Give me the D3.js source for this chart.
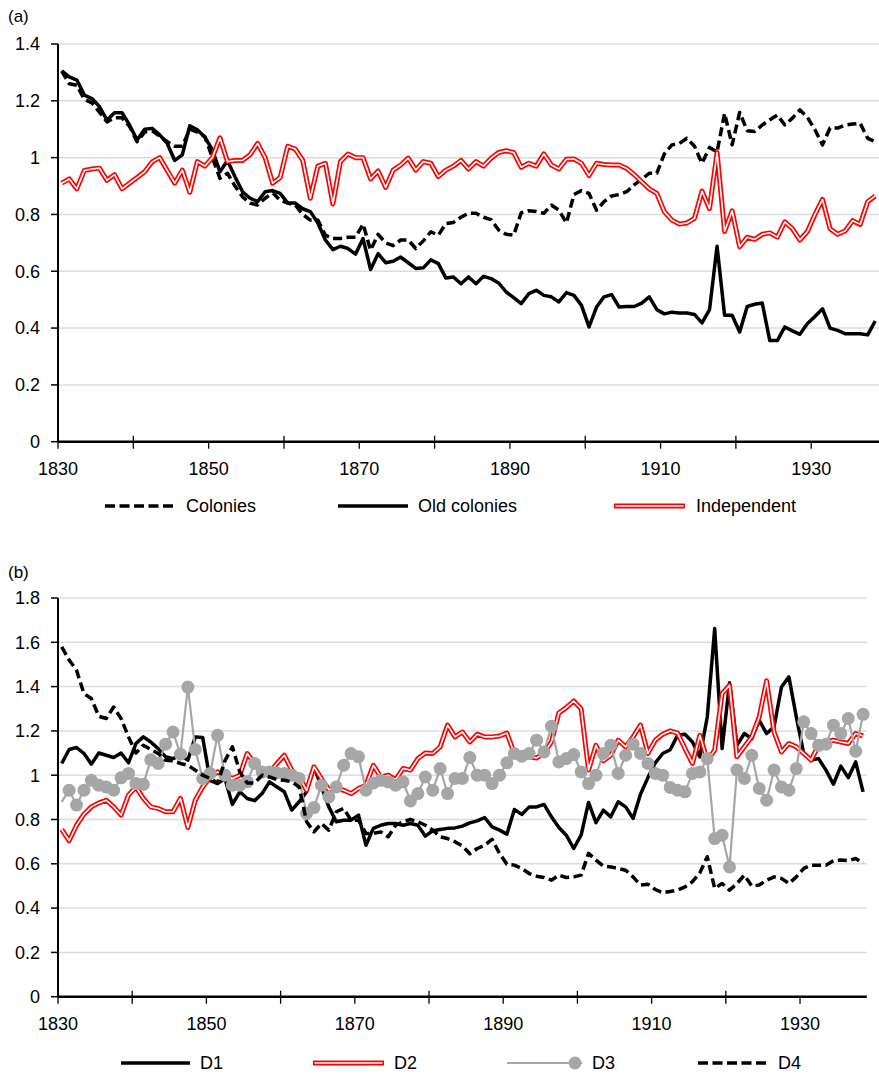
<!DOCTYPE html>
<html>
<head>
<meta charset="utf-8">
<script src="https://cdn.jsdelivr.net/npm/d3@7"></script>
<style>
body { margin: 0; background: #fff; }
text { font-family: "Liberation Sans", Arial, Helvetica, sans-serif; fill: #000; }
</style>
</head>
<body>
<div id="chart-area"></div>
<script>
// categories: one point per year
const years = d3.range(1830, 1939)
const xTickLabels = [1830, 1850, 1870, 1890, 1910, 1930]
const yTicksA = [0, 0.2, 0.4, 0.6, 0.8, 1, 1.2, 1.4]
const yTicksB = [0, 0.2, 0.4, 0.6, 0.8, 1, 1.2, 1.4, 1.6, 1.8]

// panel (a)
const colonies = [1.305, 1.26, 1.255, 1.205, 1.193, 1.16, 1.126, 1.14, 1.14, 1.11,
	1.056, 1.09, 1.094, 1.076, 1.056, 1.04, 1.04, 1.1, 1.09, 1.074,
	1.0, 0.927, 0.945, 0.9, 0.862, 0.84, 0.833, 0.857, 0.876, 0.85,
	0.84, 0.833, 0.8, 0.78, 0.78, 0.727, 0.715, 0.715, 0.72, 0.72,
	0.766, 0.674, 0.73, 0.70, 0.69, 0.71, 0.71, 0.68, 0.707, 0.739,
	0.727, 0.768, 0.772, 0.79, 0.804, 0.804, 0.79, 0.782, 0.745, 0.73,
	0.727, 0.806, 0.813, 0.81, 0.804, 0.833, 0.815, 0.77, 0.87, 0.884,
	0.874, 0.815, 0.845, 0.865, 0.87, 0.88, 0.904, 0.924, 0.945, 0.945,
	1.013, 1.045, 1.05, 1.068, 1.04, 0.98, 1.036, 1.02, 1.156, 1.045,
	1.159, 1.095, 1.092, 1.115, 1.133, 1.15, 1.115, 1.139, 1.168, 1.142,
	1.098, 1.045, 1.104, 1.104, 1.115, 1.118, 1.121, 1.068, 1.056]

const oldColonies = [1.305, 1.284, 1.273, 1.22, 1.208, 1.18, 1.132, 1.158, 1.158, 1.115,
	1.062, 1.1, 1.103, 1.08, 1.05, 0.99, 1.01, 1.112, 1.098, 1.072,
	1.027, 0.95, 0.99, 0.933, 0.88, 0.857, 0.845, 0.88, 0.884, 0.874,
	0.84, 0.84, 0.82, 0.81, 0.77, 0.71, 0.676, 0.688, 0.68, 0.66,
	0.715, 0.606, 0.662, 0.63, 0.635, 0.65, 0.63, 0.61, 0.612, 0.64,
	0.627, 0.576, 0.58, 0.556, 0.58, 0.556, 0.582, 0.574, 0.559, 0.527,
	0.507, 0.486, 0.521, 0.533, 0.515, 0.51, 0.492, 0.525, 0.515, 0.48,
	0.404, 0.474, 0.51, 0.518, 0.474, 0.476, 0.476, 0.488, 0.51, 0.465,
	0.45, 0.456, 0.453, 0.453, 0.448, 0.418, 0.465, 0.688, 0.445, 0.445,
	0.386, 0.476, 0.484, 0.488, 0.356, 0.356, 0.404, 0.39, 0.378, 0.416,
	0.441, 0.468, 0.4, 0.392, 0.38, 0.38, 0.38, 0.376, 0.425]

const independent = [0.91, 0.925, 0.89, 0.955, 0.96, 0.963, 0.92, 0.94, 0.89, 0.91,
	0.93, 0.95, 0.985, 1.0, 0.955, 0.91, 0.956, 0.878, 0.986, 0.97,
	1.0, 1.07, 0.986, 0.99, 0.99, 1.01, 1.05, 1.0, 0.91, 0.93,
	1.04, 1.03, 0.99, 0.857, 0.97, 0.98, 0.837, 0.986, 1.013, 1.0,
	1.0, 0.925, 0.953, 0.895, 0.956, 0.974, 0.998, 0.956, 0.986, 0.98,
	0.933, 0.956, 0.97, 0.99, 0.96, 0.986, 0.97, 0.998, 1.018, 1.024,
	1.018, 0.966, 0.98, 0.97, 1.013, 0.974, 0.96, 0.994, 0.995, 0.98,
	0.937, 0.98, 0.976, 0.974, 0.974, 0.962, 0.94, 0.915, 0.89, 0.874,
	0.81, 0.78, 0.766, 0.77, 0.786, 0.882, 0.82, 1.018, 0.74, 0.813,
	0.686, 0.72, 0.712, 0.73, 0.735, 0.72, 0.774, 0.75, 0.71, 0.74,
	0.8, 0.853, 0.75, 0.73, 0.742, 0.778, 0.765, 0.845, 0.865]

// panel (b)
const d1 = [1.053, 1.116, 1.125, 1.098, 1.05, 1.1, 1.09, 1.08, 1.1, 1.056,
	1.143, 1.173, 1.15, 1.12, 1.083, 1.075, 1.09, 1.068, 1.173, 1.17,
	0.977, 0.962, 0.985, 0.868, 0.925, 0.895, 0.885, 0.917, 0.97, 0.947,
	0.925, 0.842, 0.88, 0.925, 1.038, 0.947, 0.857, 0.79, 0.797, 0.797,
	0.82, 0.684, 0.76, 0.774, 0.782, 0.782, 0.774, 0.782, 0.774, 0.725,
	0.749, 0.755, 0.76, 0.762, 0.77, 0.785, 0.794, 0.809, 0.767, 0.752,
	0.734, 0.845, 0.823, 0.857, 0.857, 0.868, 0.812, 0.764, 0.729, 0.669,
	0.729, 0.877, 0.786, 0.842, 0.812, 0.88, 0.857, 0.805, 0.914, 0.989,
	1.056, 1.098, 1.115, 1.18, 1.185, 1.15, 1.083, 1.263, 1.662, 1.12,
	1.417, 1.135, 1.188, 1.165, 1.248, 1.188, 1.218, 1.398, 1.444, 1.263,
	1.098, 1.068, 1.075, 1.023, 0.959, 1.041, 0.989, 1.06, 0.925]

const d2 = [0.755, 0.704, 0.774, 0.824, 0.857, 0.875, 0.887, 0.857, 0.82, 0.91,
	0.947, 0.895, 0.857, 0.85, 0.835, 0.835, 0.895, 0.764, 0.887, 0.947,
	0.992, 1.015, 1.0, 0.985, 1.0, 1.098, 1.053, 1.02, 1.01, 1.053,
	1.09, 1.023, 0.992, 0.932, 1.038, 0.985, 0.935, 0.94, 0.932, 0.917,
	0.94, 0.955, 1.045, 0.992, 1.0, 0.98, 1.03, 1.023, 1.075, 1.1,
	1.098, 1.128, 1.226, 1.173, 1.195, 1.15, 1.185, 1.173, 1.173, 1.177,
	1.19, 1.098, 1.083, 1.083, 1.078, 1.098, 1.15, 1.281, 1.305, 1.335,
	1.3, 1.023, 1.135, 1.065, 1.09, 1.158, 1.128, 1.173, 1.226, 1.098,
	1.158, 1.185, 1.2, 1.19, 1.12, 1.053, 1.18, 1.068, 1.113, 1.368,
	1.406, 1.083, 1.128, 1.173, 1.263, 1.426, 1.195, 1.105, 1.143, 1.128,
	1.098, 1.068, 1.135, 1.15, 1.158, 1.15, 1.143, 1.188, 1.177]

const d3s = [0.88, 0.932, 0.865, 0.932, 0.977, 0.955, 0.947, 0.932, 0.988, 1.008,
	0.962, 0.959, 1.07, 1.053, 1.14, 1.195, 1.095, 1.398, 1.116, 0.985,
	1.008, 1.18, 1.0, 0.955, 0.955, 0.97, 1.053, 1.015, 1.015, 1.01,
	1.008, 1.0, 0.985, 0.827, 0.854, 0.955, 0.902, 0.947, 1.045, 1.098,
	1.083, 0.932, 0.965, 0.977, 0.97, 0.955, 0.97, 0.884, 0.917, 0.992,
	0.932, 1.03, 0.917, 0.985, 0.985, 1.08, 1.0, 1.0, 0.962, 1.0,
	1.056, 1.098, 1.086, 1.098, 1.158, 1.105, 1.221, 1.06, 1.075, 1.093,
	1.015, 0.962, 1.0, 1.098, 1.135, 1.008, 1.09, 1.14, 1.098, 1.053,
	1.008, 1.0, 0.945, 0.932, 0.925, 1.008, 1.015, 1.075, 0.714, 0.729,
	0.586, 1.023, 0.985, 1.09, 0.94, 0.887, 1.023, 0.947, 0.932, 1.03,
	1.241, 1.188, 1.135, 1.14, 1.226, 1.188, 1.256, 1.108, 1.275]

const d4 = [1.579, 1.52, 1.474, 1.368, 1.346, 1.266, 1.256, 1.308, 1.256, 1.173,
	1.1, 1.135, 1.116, 1.098, 1.068, 1.065, 1.053, 1.045, 1.023, 1.0,
	0.985, 0.965, 1.065, 1.128, 1.015, 0.965, 0.965, 1.0, 0.992, 0.98,
	0.977, 0.97, 0.947, 0.79, 0.744, 0.782, 0.752, 0.835, 0.85, 0.797,
	0.797, 0.737, 0.737, 0.744, 0.722, 0.774, 0.79, 0.8, 0.79, 0.774,
	0.752, 0.722, 0.714, 0.70, 0.68, 0.645, 0.669, 0.684, 0.71, 0.647,
	0.598, 0.594, 0.579, 0.556, 0.544, 0.538, 0.526, 0.549, 0.538, 0.541,
	0.549, 0.647, 0.617, 0.589, 0.586, 0.579, 0.571, 0.541, 0.504, 0.508,
	0.484, 0.469, 0.475, 0.481, 0.496, 0.519, 0.559, 0.632, 0.489, 0.511,
	0.481, 0.511, 0.549, 0.499, 0.504, 0.526, 0.541, 0.534, 0.511, 0.541,
	0.579, 0.594, 0.594, 0.594, 0.614, 0.617, 0.614, 0.624, 0.602]

const RED = "#ff0000"
const GREY = "#a6a6a6"

const svg = d3.select("#chart-area").append("svg")
	.attr("width", 879)
	.attr("height", 1075)

const fmt = d => String(+d.toFixed(1))

function drawSeries(g, values, x, y, style) {
	const line = d3.line()
		.x((d, i) => x(years[i]))
		.y(d => y(d))
	const path = line(values)
	if (style == "double") {
		g.append("path").attr("d", path).attr("fill", "none")
			.attr("stroke", RED).attr("stroke-width", 5).attr("stroke-linejoin", "round")
		g.append("path").attr("d", path).attr("fill", "none")
			.attr("stroke", "#fff").attr("stroke-width", 1.6).attr("stroke-linejoin", "round")
	} else if (style == "marker") {
		g.append("path").attr("d", path).attr("fill", "none")
			.attr("stroke", GREY).attr("stroke-width", 2.2)
		// the first year carries no marker in the original
		g.selectAll(null).data(values).enter()
			.filter((d, i) => i > 0)
			.append("circle")
			.attr("cx", (d, i) => x(years[i + 1]))
			.attr("cy", d => y(d))
			.attr("r", 6.5)
			.attr("fill", GREY)
	} else {
		g.append("path").attr("d", path).attr("fill", "none")
			.attr("stroke", "#000").attr("stroke-width", 3.5)
			.attr("stroke-linejoin", "round")
			.attr("stroke-dasharray", style == "dash" ? "9,4.5" : null)
	}
}

function legendItem(g, item, ly) {
	if (item.style == "double") {
		g.append("line").attr("x1", item.x1).attr("x2", item.x2).attr("y1", ly).attr("y2", ly)
			.attr("stroke", RED).attr("stroke-width", 5)
		g.append("line").attr("x1", item.x1 + 1.5).attr("x2", item.x2 - 1.5).attr("y1", ly).attr("y2", ly)
			.attr("stroke", "#fff").attr("stroke-width", 1.6)
	} else if (item.style == "marker") {
		g.append("line").attr("x1", item.x1).attr("x2", item.x2).attr("y1", ly).attr("y2", ly)
			.attr("stroke", GREY).attr("stroke-width", 2.2)
		g.append("circle").attr("cx", item.x2 - 7).attr("cy", ly).attr("r", 6.5).attr("fill", GREY)
	} else {
		g.append("line").attr("x1", item.x1).attr("x2", item.x2).attr("y1", ly).attr("y2", ly)
			.attr("stroke", "#000").attr("stroke-width", 3.5)
			.attr("stroke-dasharray", item.style == "dash" ? "10,4.5" : null)
	}
	g.append("text")
		.attr("x", item.tx)
		.attr("y", ly)
		.attr("dy", "0.35em")
		.attr("font-size", "18px")
		.text(item.name)
}

function drawPanel(p) {
	const g = svg.append("g")

	// scales: categories sit between tick marks
	const x = d3.scaleLinear().domain([1829.5, 1938.5]).range([p.left, p.right])
	const y = d3.scaleLinear().domain([0, p.yMax]).range([p.bottom, p.top])

	// panel tag
	g.append("text").attr("x", 8).attr("y", p.tagY).attr("font-size", "17px").text(p.tag)

	// gridlines
	g.selectAll(null).data(p.yTicks.slice(1)).enter().append("line")
		.attr("x1", p.left).attr("x2", p.right)
		.attr("y1", d => y(d)).attr("y2", d => y(d))
		.attr("stroke", "#dcdcdc").attr("stroke-width", 1.5)

	// y axis
	g.append("line").attr("x1", p.left).attr("x2", p.left)
		.attr("y1", y(p.yMax)).attr("y2", p.bottom)
		.attr("stroke", "#000").attr("stroke-width", 2)
	g.selectAll(null).data(p.yTicks).enter().append("line")
		.attr("x1", p.left - 7).attr("x2", p.left)
		.attr("y1", d => y(d)).attr("y2", d => y(d))
		.attr("stroke", "#000").attr("stroke-width", 1.5)
	g.selectAll(null).data(p.yTicks).enter().append("text")
		.attr("x", 40).attr("y", d => y(d)).attr("dy", "0.35em")
		.attr("text-anchor", "end").attr("font-size", "18px")
		.text(fmt)

	// series
	p.series.forEach(s => drawSeries(g, s.values, x, y, s.style))

	// x axis
	g.append("line").attr("x1", p.left).attr("x2", p.right)
		.attr("y1", p.bottom).attr("y2", p.bottom)
		.attr("stroke", "#000").attr("stroke-width", 2.5)
	const tickYears = d3.range(1829.5, 1938.5, 10)
	g.selectAll(null).data(tickYears).enter().append("line")
		.attr("x1", d => x(d)).attr("x2", d => x(d))
		.attr("y1", (d, i) => i % 2 == 0 ? p.bottom : p.bottom - 6)
		.attr("y2", p.bottom + 7)
		.attr("stroke", "#000").attr("stroke-width", 1.3)
	g.selectAll(null).data(xTickLabels).enter().append("text")
		.attr("x", d => x(d - 0.5)).attr("y", p.bottom + 33)
		.attr("text-anchor", "middle").attr("font-size", "18px")
		.text(d => d)

	// legend
	p.legend.forEach(item => legendItem(g, item, p.legendY))
}

drawPanel({
	tag: "(a)", tagY: 22,
	left: 58, right: 879, top: 44, bottom: 441.7, yMax: 1.4, yTicks: yTicksA,
	series: [
		{ values: colonies, style: "dash" },
		{ values: oldColonies, style: "solid" },
		{ values: independent, style: "double" }
	],
	legendY: 506,
	legend: [
		{ name: "Colonies", style: "dash", x1: 105, x2: 177, tx: 186 },
		{ name: "Old colonies", style: "solid", x1: 338, x2: 408, tx: 418 },
		{ name: "Independent", style: "double", x1: 614, x2: 685, tx: 696 }
	]
})

drawPanel({
	tag: "(b)", tagY: 578,
	left: 58, right: 866.8, top: 598, bottom: 996.7, yMax: 1.8, yTicks: yTicksB,
	series: [
		{ values: d1, style: "solid" },
		{ values: d2, style: "double" },
		{ values: d3s, style: "marker" },
		{ values: d4, style: "dash" }
	],
	legendY: 1063,
	legend: [
		{ name: "D1", style: "solid", x1: 121, x2: 190, tx: 200 },
		{ name: "D2", style: "double", x1: 313, x2: 384, tx: 394 },
		{ name: "D3", style: "marker", x1: 507, x2: 582, tx: 592 },
		{ name: "D4", style: "dash", x1: 698, x2: 768, tx: 778 }
	]
})
</script>
</body>
</html>
